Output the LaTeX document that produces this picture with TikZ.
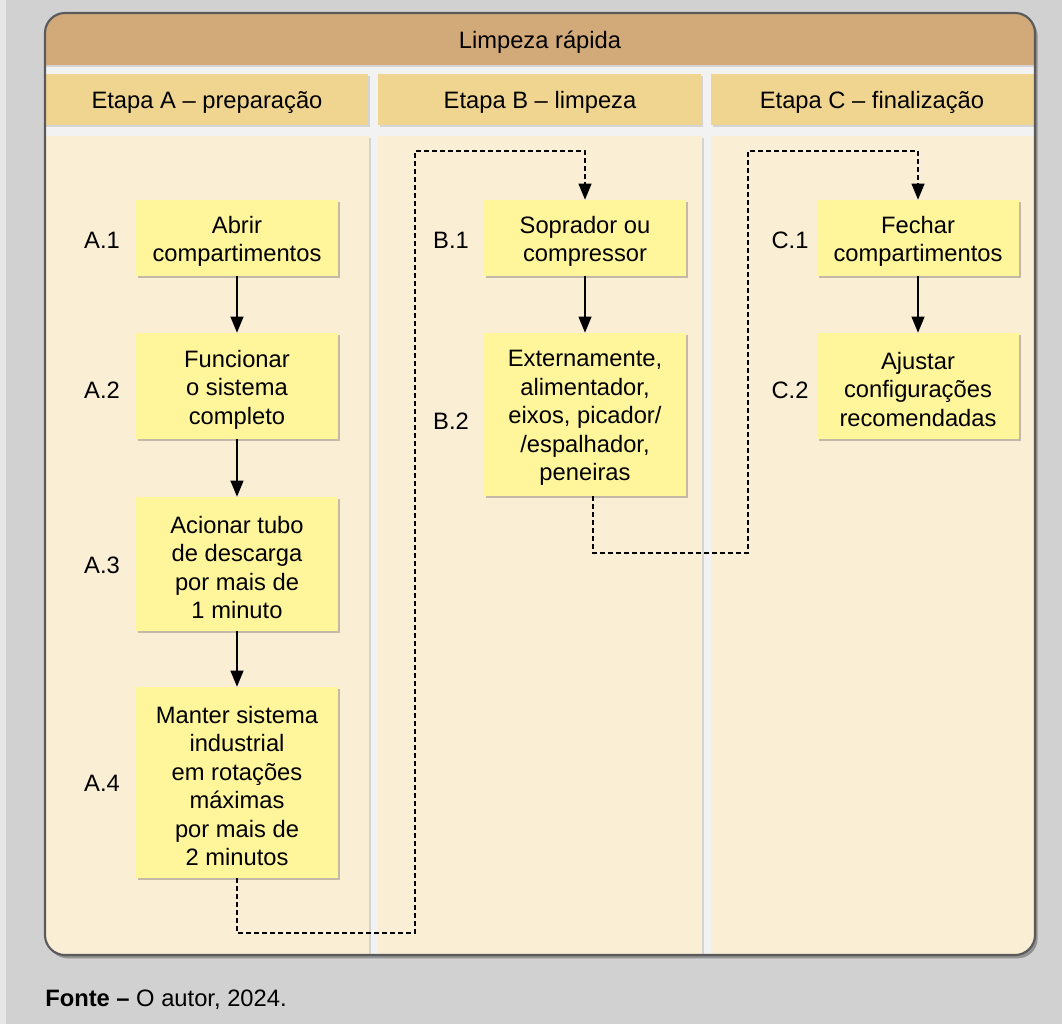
\documentclass[tikz,border=0pt]{standalone}
\usepackage{fontspec}
\setmainfont{Liberation Sans}
\usetikzlibrary{arrows.meta,shadows}

\definecolor{pagebg}{HTML}{D1D1D1}
\definecolor{pagestrip}{HTML}{E6E6E6}
\definecolor{gapcol}{HTML}{F2F2F2}
\definecolor{titlecol}{HTML}{D2AA7A}
\definecolor{headcol}{HTML}{F0D590}
\definecolor{bodycol}{HTML}{FAEED5}
\definecolor{boxcol}{HTML}{FFF59B}
\definecolor{framecol}{HTML}{5A5A5A}

\tikzset{
  txt/.style={font=\fontsize{17.8}{21.3}\selectfont, text=black},
  boxtext/.style={txt, align=center, inner sep=0pt, yshift=-2.6pt},
  stepbox/.style={fill=boxcol, inner sep=0pt, minimum width=151.5pt,
    drop shadow={shadow xshift=1.6pt, shadow yshift=-1.6pt, opacity=0.22, fill=black}},
  steplabel/.style={txt, inner sep=0pt},
  headtext/.style={txt, anchor=base, inner sep=0pt},
  panel/.style={drop shadow={shadow xshift=1.8pt, shadow yshift=-1.8pt, opacity=0.12, fill=black}},
  flow/.style={line width=1.5pt, -{Triangle[width=9.5pt,length=12pt]}},
  jump/.style={line width=1.5pt, dash pattern=on 3.6pt off 2.4pt, -{Triangle[width=9.5pt,length=12pt]}},
}

\begin{document}
\begin{tikzpicture}[x=0.75pt, y=-0.75pt]
  \useasboundingbox (0,0) rectangle (1062,1024);
  % page background
  \fill[pagebg] (0,0) rectangle (1062,1024);
  \fill[pagestrip] (0,0) rectangle (6,1024);

  % outer frame with its shadow
  \fill[gapcol, rounded corners=15pt,
        drop shadow={shadow xshift=2pt, shadow yshift=-2.5pt, opacity=0.3, fill=black}]
    (45,13) rectangle (1035,955);

  \begin{scope}
    \clip[rounded corners=15pt] (45,13) rectangle (1035,955);
    % title band
    \fill[titlecol, panel] (40,8) rectangle (1040,65);
    % column headers
    \fill[headcol, panel] (40,74) rectangle (368,125);
    \fill[headcol, panel] (378,74) rectangle (701,125);
    \fill[headcol, panel] (711,74) rectangle (1040,125);
    % column bodies
    \fill[bodycol, panel] (40,136) rectangle (369,960);
    \fill[bodycol, panel] (378,136) rectangle (702,960);
    \fill[bodycol, panel] (711,136) rectangle (1040,960);
  \end{scope}
  \draw[framecol, line width=1.6pt, rounded corners=15pt] (45,13) rectangle (1035,955);

  % titles
  \node[headtext] (title) at (540,48.5) {Limpeza rápida};
  \node[headtext] (hA) at (207,108.5) {Etapa A – preparação};
  \node[headtext] (hB) at (540,108.5) {Etapa B – limpeza};
  \node[headtext] (hC) at (872,108.5) {Etapa C – finalização};

  % stage A
  \node[stepbox, minimum height=57pt,
        label={[boxtext]center:Abrir\\compartimentos}] (a1) at (237,238) {};
  \node[stepbox, minimum height=79.5pt,
        label={[boxtext]center:Funcionar\\o sistema\\completo}] (a2) at (237,386) {};
  \node[stepbox, minimum height=100.5pt,
        label={[boxtext]center:Acionar tubo\\de descarga\\por mais de\\1 minuto}] (a3) at (237,564) {};
  \node[stepbox, minimum height=143.25pt,
        label={[boxtext]center:Manter sistema\\industrial\\em rotações\\máximas\\por mais de\\2 minutos}] (a4) at (237,782.5) {};

  % stage B
  \node[stepbox, minimum height=57pt,
        label={[boxtext]center:Soprador ou\\compressor}] (b1) at (585,238) {};
  \node[stepbox, minimum height=122.25pt,
        label={[boxtext]center:Externamente,\\alimentador,\\eixos, picador/\\/espalhador,\\peneiras}] (b2) at (585,414.5) {};

  % stage C
  \node[stepbox, minimum height=57pt,
        label={[boxtext]center:Fechar\\compartimentos}] (c1) at (918,238) {};
  \node[stepbox, minimum height=79.5pt,
        label={[boxtext]center:Ajustar\\configurações\\recomendadas}] (c2) at (918,386) {};

  % step labels
  \node[steplabel] (la1) at (102,240) {A.1};
  \node[steplabel] (la2) at (102,390) {A.2};
  \node[steplabel] (la3) at (102,565) {A.3};
  \node[steplabel] (la4) at (102,783) {A.4};
  \node[steplabel] (lb1) at (451,240) {B.1};
  \node[steplabel] (lb2) at (451,421) {B.2};
  \node[steplabel] (lc1) at (790,240) {C.1};
  \node[steplabel] (lc2) at (790,390) {C.2};

  % arrows within each stage
  \draw[flow] (a1) -- (a2);
  \draw[flow] (a2) -- (a3);
  \draw[flow] (a3) -- (a4);
  \draw[flow] (b1) -- (b2);
  \draw[flow] (c1) -- (c2);

  % hand-over between stages
  \coordinate (ja) at (415,933);
  \coordinate (jb) at (415,151);
  \coordinate (jc) at (748,553);
  \coordinate (jd) at (748,151);
  \draw[jump] (a4.south) |- (ja) -- (jb) -| (b1.north);
  \draw[jump] ([xshift=6pt]b2.south) |- (jc) -- (jd) -| (c1.north);

  % source line
  \node[txt, anchor=base west, inner sep=0pt] (src) at (45,1006)
    {\textbf{Fonte –} O autor, 2024.};
\end{tikzpicture}
\end{document}
